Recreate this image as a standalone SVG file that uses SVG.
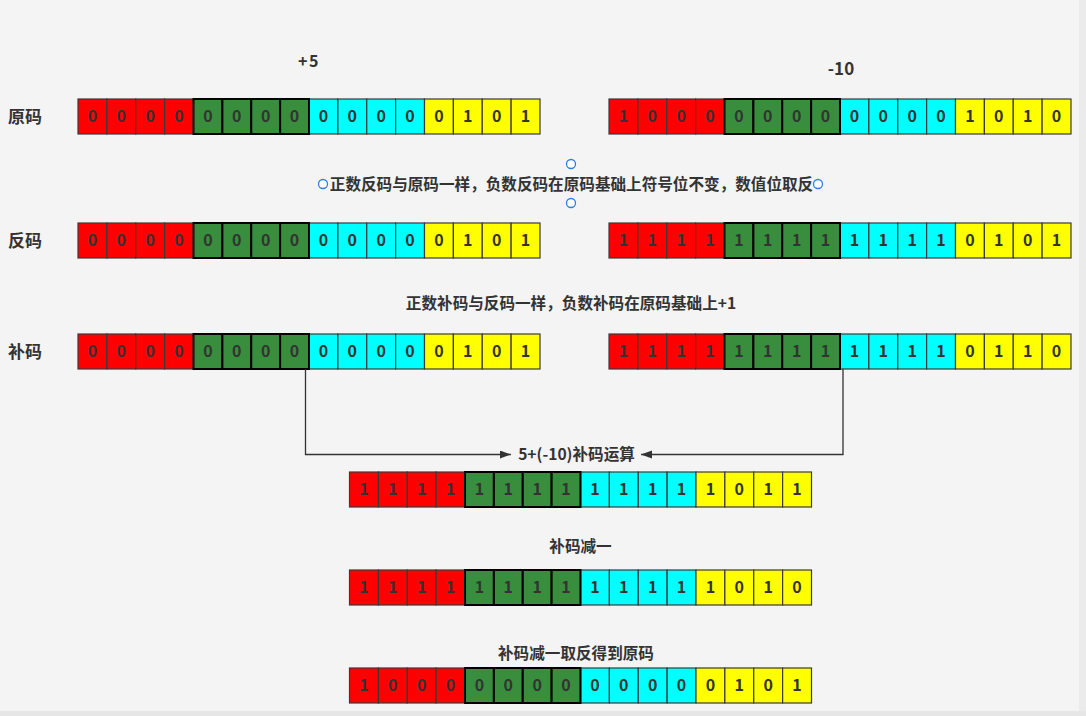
<svg xmlns="http://www.w3.org/2000/svg" xmlns:xlink="http://www.w3.org/1999/xlink" width="1086" height="716" viewBox="0 0 1086 716">
<style>
  .bg{fill:#f4f4f4}
  .cr{fill:#ff0000;stroke:#3a3a3a;stroke-width:1.2}
  .cg{fill:#388e3c;stroke:#000000;stroke-width:2}
  .cc{fill:#00ffff;stroke:#3a3a3a;stroke-width:1.2}
  .cy{fill:#ffff00;stroke:#3a3a3a;stroke-width:1.2}
  .d{font-family:"Noto Sans CJK SC","Open Sans",sans-serif;font-size:16px;font-weight:bold;fill:#333333;text-anchor:middle}
  .lbl{font-family:"Noto Sans CJK SC","Liberation Sans",sans-serif;font-size:17px;font-weight:bold;fill:#333333}
  .t{font-family:"Noto Sans CJK SC","Liberation Sans",sans-serif;font-size:15.6px;font-weight:bold;fill:#333333;text-anchor:middle}
  .conn{fill:none;stroke:#333333;stroke-width:1.3}
  .h{fill:#ffffff;stroke:#2f7de1;stroke-width:1.3}
</style>
<defs>
  <marker id="arr" markerWidth="12" markerHeight="10" refX="11" refY="4" orient="auto" markerUnits="userSpaceOnUse">
    <path d="M0,0 L11,4 L0,8 Z" fill="#333333"/>
  </marker>
  <g id="cells">
    <rect class="cr" x="0" y="0" width="28.875" height="35"/>
    <rect class="cr" x="28.875" y="0" width="28.875" height="35"/>
    <rect class="cr" x="57.75" y="0" width="28.875" height="35"/>
    <rect class="cr" x="86.625" y="0" width="28.875" height="35"/>
    <rect class="cc" x="231" y="0" width="28.875" height="35"/>
    <rect class="cc" x="259.875" y="0" width="28.875" height="35"/>
    <rect class="cc" x="288.75" y="0" width="28.875" height="35"/>
    <rect class="cc" x="317.625" y="0" width="28.875" height="35"/>
    <rect class="cy" x="346.5" y="0" width="28.875" height="35"/>
    <rect class="cy" x="375.375" y="0" width="28.875" height="35"/>
    <rect class="cy" x="404.25" y="0" width="28.875" height="35"/>
    <rect class="cy" x="433.125" y="0" width="28.875" height="35"/>
    <rect class="cg" x="115.5" y="0" width="28.875" height="35"/>
    <rect class="cg" x="144.375" y="0" width="28.875" height="35"/>
    <rect class="cg" x="173.25" y="0" width="28.875" height="35"/>
    <rect class="cg" x="202.125" y="0" width="28.875" height="35"/>
  </g>
</defs>
<rect class="bg" x="0" y="0" width="1086" height="716"/>
<rect x="1079" y="0" width="7" height="716" fill="#ebebeb"/>
<rect x="0" y="711" width="1086" height="5" fill="#e6e6e6"/>

<g id="labels">
  <text class="lbl" x="8" y="123">原码</text>
  <text class="lbl" x="8" y="247">反码</text>
  <text class="lbl" x="8" y="358">补码</text>
  <text class="t" x="309" y="67" style="font-size:16px;letter-spacing:1.5px">+5</text>
  <text class="t" x="841" y="75" style="font-size:17px">-10</text>
</g>

<g id="row-yuan-pos" transform="translate(78,99)">
  <use xlink:href="#cells" href="#cells"/>
  <text class="d" x="14.44" y="23">0</text><text class="d" x="43.31" y="23">0</text><text class="d" x="72.19" y="23">0</text><text class="d" x="101.06" y="23">0</text>
  <text class="d" x="129.94" y="23">0</text><text class="d" x="158.81" y="23">0</text><text class="d" x="187.69" y="23">0</text><text class="d" x="216.56" y="23">0</text>
  <text class="d" x="245.44" y="23">0</text><text class="d" x="274.31" y="23">0</text><text class="d" x="303.19" y="23">0</text><text class="d" x="332.06" y="23">0</text>
  <text class="d" x="360.94" y="23">0</text><text class="d" x="389.81" y="23">1</text><text class="d" x="418.69" y="23">0</text><text class="d" x="447.56" y="23">1</text>
</g>
<g id="row-yuan-neg" transform="translate(609,99)">
  <use xlink:href="#cells" href="#cells"/>
  <text class="d" x="14.44" y="23">1</text><text class="d" x="43.31" y="23">0</text><text class="d" x="72.19" y="23">0</text><text class="d" x="101.06" y="23">0</text>
  <text class="d" x="129.94" y="23">0</text><text class="d" x="158.81" y="23">0</text><text class="d" x="187.69" y="23">0</text><text class="d" x="216.56" y="23">0</text>
  <text class="d" x="245.44" y="23">0</text><text class="d" x="274.31" y="23">0</text><text class="d" x="303.19" y="23">0</text><text class="d" x="332.06" y="23">0</text>
  <text class="d" x="360.94" y="23">1</text><text class="d" x="389.81" y="23">0</text><text class="d" x="418.69" y="23">1</text><text class="d" x="447.56" y="23">0</text>
</g>

<g id="note-fan">
  <text class="t" x="571.5" y="190">正数反码与原码一样，负数反码在原码基础上符号位不变，数值位取反</text>
  <circle class="h" cx="571" cy="164" r="4.5"/>
  <circle class="h" cx="323" cy="184" r="4.5"/>
  <circle class="h" cx="818" cy="184" r="4.5"/>
  <circle class="h" cx="571" cy="203" r="4.5"/>
</g>

<g id="row-fan-pos" transform="translate(78,223)">
  <use xlink:href="#cells" href="#cells"/>
  <text class="d" x="14.44" y="23">0</text><text class="d" x="43.31" y="23">0</text><text class="d" x="72.19" y="23">0</text><text class="d" x="101.06" y="23">0</text>
  <text class="d" x="129.94" y="23">0</text><text class="d" x="158.81" y="23">0</text><text class="d" x="187.69" y="23">0</text><text class="d" x="216.56" y="23">0</text>
  <text class="d" x="245.44" y="23">0</text><text class="d" x="274.31" y="23">0</text><text class="d" x="303.19" y="23">0</text><text class="d" x="332.06" y="23">0</text>
  <text class="d" x="360.94" y="23">0</text><text class="d" x="389.81" y="23">1</text><text class="d" x="418.69" y="23">0</text><text class="d" x="447.56" y="23">1</text>
</g>
<g id="row-fan-neg" transform="translate(609,223)">
  <use xlink:href="#cells" href="#cells"/>
  <text class="d" x="14.44" y="23">1</text><text class="d" x="43.31" y="23">1</text><text class="d" x="72.19" y="23">1</text><text class="d" x="101.06" y="23">1</text>
  <text class="d" x="129.94" y="23">1</text><text class="d" x="158.81" y="23">1</text><text class="d" x="187.69" y="23">1</text><text class="d" x="216.56" y="23">1</text>
  <text class="d" x="245.44" y="23">1</text><text class="d" x="274.31" y="23">1</text><text class="d" x="303.19" y="23">1</text><text class="d" x="332.06" y="23">1</text>
  <text class="d" x="360.94" y="23">0</text><text class="d" x="389.81" y="23">1</text><text class="d" x="418.69" y="23">0</text><text class="d" x="447.56" y="23">1</text>
</g>

<g id="note-bu">
  <text class="t" x="571" y="309">正数补码与反码一样，负数补码在原码基础上+1</text>
</g>

<g id="row-bu-pos" transform="translate(78,334)">
  <use xlink:href="#cells" href="#cells"/>
  <text class="d" x="14.44" y="23">0</text><text class="d" x="43.31" y="23">0</text><text class="d" x="72.19" y="23">0</text><text class="d" x="101.06" y="23">0</text>
  <text class="d" x="129.94" y="23">0</text><text class="d" x="158.81" y="23">0</text><text class="d" x="187.69" y="23">0</text><text class="d" x="216.56" y="23">0</text>
  <text class="d" x="245.44" y="23">0</text><text class="d" x="274.31" y="23">0</text><text class="d" x="303.19" y="23">0</text><text class="d" x="332.06" y="23">0</text>
  <text class="d" x="360.94" y="23">0</text><text class="d" x="389.81" y="23">1</text><text class="d" x="418.69" y="23">0</text><text class="d" x="447.56" y="23">1</text>
</g>
<g id="row-bu-neg" transform="translate(609,334)">
  <use xlink:href="#cells" href="#cells"/>
  <text class="d" x="14.44" y="23">1</text><text class="d" x="43.31" y="23">1</text><text class="d" x="72.19" y="23">1</text><text class="d" x="101.06" y="23">1</text>
  <text class="d" x="129.94" y="23">1</text><text class="d" x="158.81" y="23">1</text><text class="d" x="187.69" y="23">1</text><text class="d" x="216.56" y="23">1</text>
  <text class="d" x="245.44" y="23">1</text><text class="d" x="274.31" y="23">1</text><text class="d" x="303.19" y="23">1</text><text class="d" x="332.06" y="23">1</text>
  <text class="d" x="360.94" y="23">0</text><text class="d" x="389.81" y="23">1</text><text class="d" x="418.69" y="23">1</text><text class="d" x="447.56" y="23">0</text>
</g>

<g id="connectors">
  <path class="conn" d="M305.5,369 V454.5 H511" marker-end="url(#arr)"/>
  <path class="conn" d="M843,369 V454.5 H641" marker-end="url(#arr)"/>
</g>

<g id="op-label">
  <text class="t" x="576.5" y="460">5+(-10)补码运算</text>
</g>

<g id="row-sum" transform="translate(349.5,472)">
  <use xlink:href="#cells" href="#cells"/>
  <text class="d" x="14.44" y="23">1</text><text class="d" x="43.31" y="23">1</text><text class="d" x="72.19" y="23">1</text><text class="d" x="101.06" y="23">1</text>
  <text class="d" x="129.94" y="23">1</text><text class="d" x="158.81" y="23">1</text><text class="d" x="187.69" y="23">1</text><text class="d" x="216.56" y="23">1</text>
  <text class="d" x="245.44" y="23">1</text><text class="d" x="274.31" y="23">1</text><text class="d" x="303.19" y="23">1</text><text class="d" x="332.06" y="23">1</text>
  <text class="d" x="360.94" y="23">1</text><text class="d" x="389.81" y="23">0</text><text class="d" x="418.69" y="23">1</text><text class="d" x="447.56" y="23">1</text>
</g>

<g id="note-minus">
  <text class="t" x="580.5" y="552">补码减一</text>
</g>

<g id="row-minus" transform="translate(349.5,570)">
  <use xlink:href="#cells" href="#cells"/>
  <text class="d" x="14.44" y="23">1</text><text class="d" x="43.31" y="23">1</text><text class="d" x="72.19" y="23">1</text><text class="d" x="101.06" y="23">1</text>
  <text class="d" x="129.94" y="23">1</text><text class="d" x="158.81" y="23">1</text><text class="d" x="187.69" y="23">1</text><text class="d" x="216.56" y="23">1</text>
  <text class="d" x="245.44" y="23">1</text><text class="d" x="274.31" y="23">1</text><text class="d" x="303.19" y="23">1</text><text class="d" x="332.06" y="23">1</text>
  <text class="d" x="360.94" y="23">1</text><text class="d" x="389.81" y="23">0</text><text class="d" x="418.69" y="23">1</text><text class="d" x="447.56" y="23">0</text>
</g>

<g id="note-result">
  <text class="t" x="576" y="659">补码减一取反得到原码</text>
</g>

<g id="row-result" transform="translate(349.5,668)">
  <use xlink:href="#cells" href="#cells"/>
  <text class="d" x="14.44" y="23">1</text><text class="d" x="43.31" y="23">0</text><text class="d" x="72.19" y="23">0</text><text class="d" x="101.06" y="23">0</text>
  <text class="d" x="129.94" y="23">0</text><text class="d" x="158.81" y="23">0</text><text class="d" x="187.69" y="23">0</text><text class="d" x="216.56" y="23">0</text>
  <text class="d" x="245.44" y="23">0</text><text class="d" x="274.31" y="23">0</text><text class="d" x="303.19" y="23">0</text><text class="d" x="332.06" y="23">0</text>
  <text class="d" x="360.94" y="23">0</text><text class="d" x="389.81" y="23">1</text><text class="d" x="418.69" y="23">0</text><text class="d" x="447.56" y="23">1</text>
</g>
</svg>
